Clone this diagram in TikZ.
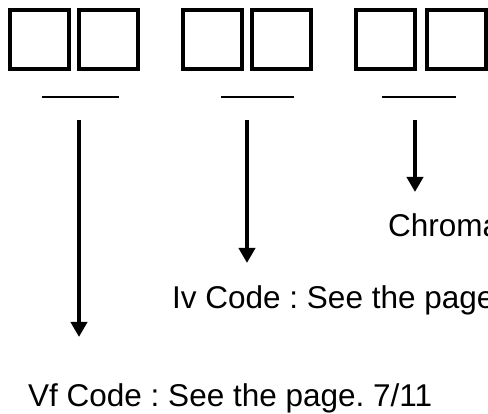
\documentclass[tikz,border=0pt]{standalone}
\usepackage{fontspec}
\setmainfont{Liberation Sans}
\usetikzlibrary{arrows.meta}
\tikzset{
  digitbox/.style={draw, line width=4pt, minimum size=59pt, inner sep=0pt},
  codelabel/.style={anchor=base west, inner sep=0pt, font=\fontsize{31.5}{37}\selectfont\frenchspacing},
}
\begin{document}
\begin{tikzpicture}[x=1pt, y=-1pt, >={Triangle[width=16pt,length=15pt]}]
  \useasboundingbox (0,0) rectangle (488,414);
  \clip (0,0) rectangle (488,414);
  % three pairs of code boxes
  \foreach \name/\cx in {b1/39, b2/108.5, b3/212.5, b4/281.5, b5/385.5, b6/456}
    \node[digitbox] (\name) at (\cx,39.5) {};

  % short rules under each pair
  \coordinate (u1l) at (42,97);  \coordinate (u1r) at (119,97);
  \coordinate (u2l) at (221,97); \coordinate (u2r) at (294,97);
  \coordinate (u3l) at (382,97); \coordinate (u3r) at (456,97);
  \draw[line width=2pt] (u1l) -- (u1r);
  \draw[line width=2pt] (u2l) -- (u2r);
  \draw[line width=2pt] (u3l) -- (u3r);

  % arrows down to the labels
  \coordinate (s1) at (79,120);  \coordinate (e1) at (79,337);
  \coordinate (s2) at (247,120); \coordinate (e2) at (247,263);
  \coordinate (s3) at (415,120); \coordinate (e3) at (415,192);
  \draw[->, line width=4.5pt] (s1) -- (e1);
  \draw[->, line width=4.5pt] (s2) -- (e2);
  \draw[->, line width=4.5pt] (s3) -- (e3);

  \node[codelabel] (chroma) at (388,237) {Chroma};
  \node[codelabel] (iv) at (172,309) {Iv Code : See the page};
  \node[codelabel] (vf) at (28,407) {Vf Code : See the page. 7/11};
\end{tikzpicture}
\end{document}
